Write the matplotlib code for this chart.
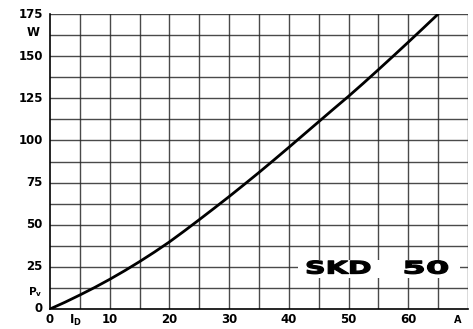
import matplotlib
matplotlib.use("Agg")
import matplotlib.pyplot as plt
from matplotlib.patches import Rectangle
from matplotlib.patheffects import AbstractPathEffect
from matplotlib.transforms import Affine2D
import numpy as np

# Forward power loss vs. current, SKD 50
current_a = [0, 2.5, 5, 7.5, 10, 12.5, 15, 17.5, 20, 22.5, 25, 27.5, 30, 32.5,
             35, 37.5, 40, 42.5, 45, 47.5, 50, 52.5, 55, 57.5, 60, 62.5, 65]
power_w = [0, 4.0, 8.3, 12.8, 17.6, 22.7, 28.1, 33.8, 39.8, 46.3, 53.0, 59.8,
           66.7, 73.8, 81.0, 88.4, 95.9, 103.5, 111.1, 118.7, 126.2, 134.0,
           142.0, 150.1, 158.3, 166.6, 175.0]

x_ticks = [0, 10, 20, 30, 40, 50, 60]
y_ticks = [0, 25, 50, 75, 100, 125, 150, 175]


class WideBold(AbstractPathEffect):
    """Draw glyphs stretched horizontally and thickened with an outline."""

    def __init__(self, sx=1.7, lw=0.8):
        super().__init__()
        self.sx = sx
        self.lw = lw

    def draw_path(self, renderer, gc, tpath, affine, rgbFace=None):
        gc0 = renderer.new_gc()
        gc0.copy_properties(gc)
        gc0.set_linewidth(self.lw)
        gc0.set_foreground(rgbFace if rgbFace is not None else "black")
        gc0.set_joinstyle("round")
        aff = Affine2D().scale(self.sx, 1.0) + affine
        renderer.draw_path(gc0, tpath, aff, rgbFace)
        gc0.restore()


fig = plt.figure(figsize=(4.73, 3.29), dpi=100)
ax = fig.add_axes([50 / 473, 20 / 329, 418 / 473, 295 / 329])
ax.set_xlim(0, 70)
ax.set_ylim(0, 175)

# grid: every 5 A and every 12.5 W
for xv in np.arange(5, 70.1, 5):
    ax.axvline(xv, color="#2a2a2a", lw=1.0, alpha=0.85, zorder=1)
for yv in np.arange(12.5, 175.1, 12.5):
    ax.axhline(yv, color="#2a2a2a", lw=1.0, alpha=0.85, zorder=1)

ax.plot(current_a, power_w, color="black", lw=2.0, zorder=3,
        solid_capstyle="round", solid_joinstyle="round")

for s in ["top", "right"]:
    ax.spines[s].set_visible(False)
for s in ["left", "bottom"]:
    ax.spines[s].set_color("black")
    ax.spines[s].set_linewidth(1.2)
ax.set_xticks([])
ax.set_yticks([])

font = dict(family="DejaVu Sans", fontweight="bold", fontsize=8.5, color="black")

for yv in y_ticks:
    ax.text(-1.2, yv, str(yv), ha="right", va="center", clip_on=False, **font)
ax.text(-2.8, 164, "W", ha="center", va="center", clip_on=False, **font)
ax.text(-2.5, 10, r"$\mathbf{P_v}$", ha="center", va="center", clip_on=False,
        fontsize=7.5)

for xv in x_ticks:
    ax.text(xv, -6.5, str(xv), ha="center", va="center", clip_on=False, **font)
ax.text(4.2, -7.0, r"$\mathbf{I_D}$", ha="center", va="center", clip_on=False,
        fontsize=8.5)
ax.text(68.2, -6.5, "A", ha="center", va="center", clip_on=False,
        family="DejaVu Sans", fontweight="bold", fontsize=7)

# type label on a white patch
ax.add_patch(Rectangle((41.5, 18.5), 27.2, 10.7, facecolor="white",
                       edgecolor="none", zorder=4))
ax.text(42.7, 24, "SKD", ha="left", va="center", zorder=5,
        family="DejaVu Sans", fontweight="bold", fontsize=12.5,
        path_effects=[WideBold(sx=1.65, lw=0.9)])
ax.text(59.0, 24, "50", ha="left", va="center", zorder=5,
        family="DejaVu Sans", fontweight="bold", fontsize=12.5,
        path_effects=[WideBold(sx=1.95, lw=0.9)])

fig.savefig("out.png", dpi=100)
